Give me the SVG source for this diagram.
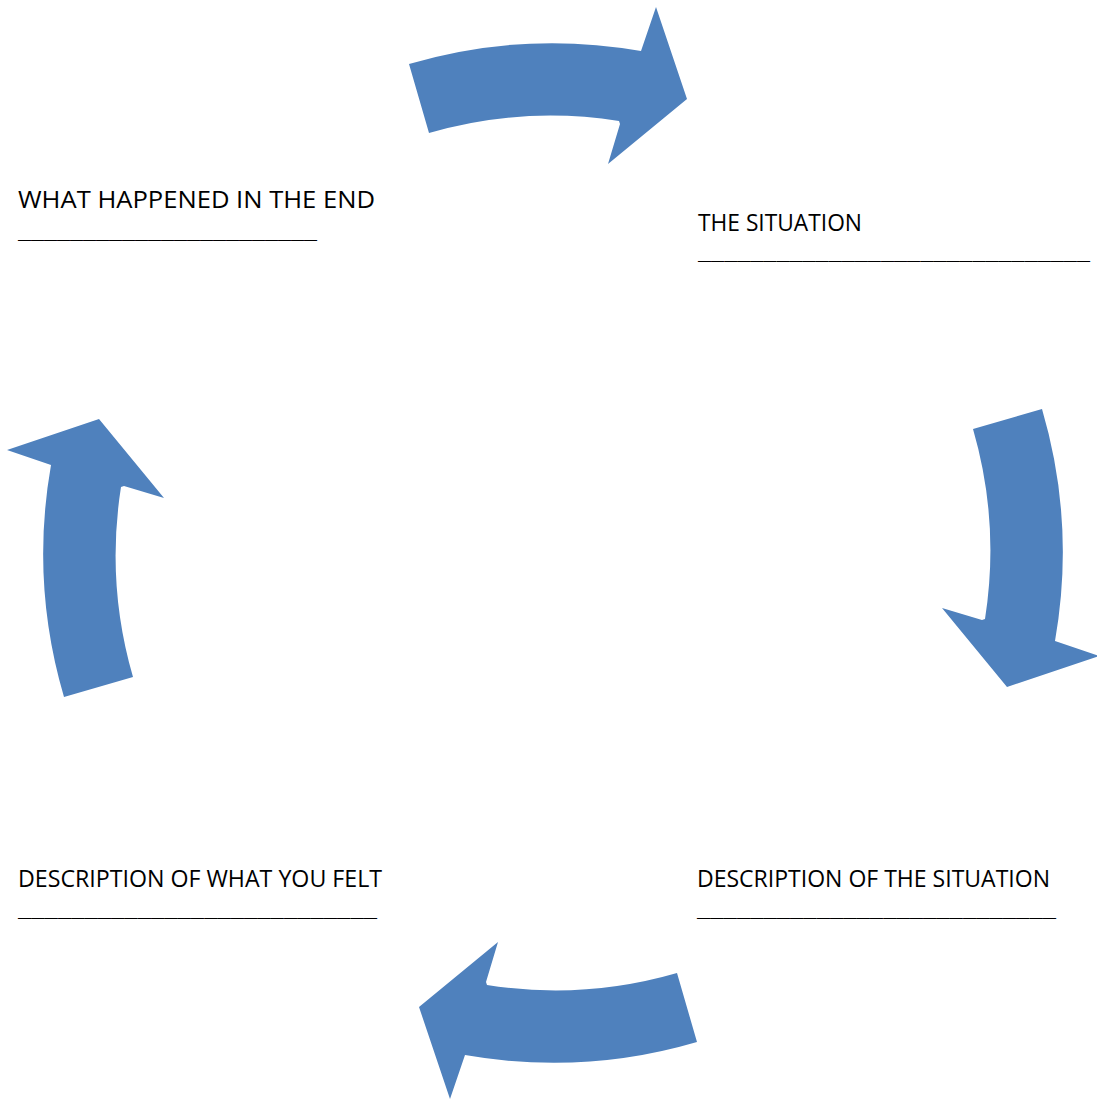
<svg xmlns="http://www.w3.org/2000/svg" width="1097" height="1102" viewBox="0 0 1097 1102">
  <style>
    .lbl { font-family: "Open Sans", "Liberation Sans", sans-serif; font-size: 24px; fill: #000000; }
    .line { font-family: "Open Sans", "Liberation Sans", sans-serif; font-size: 16px; fill: #000000; }
    .arrow { fill: #4F81BD; }
  </style>
  <defs>
    <path id="arc-arrow" class="arrow" d="M 409 64 A 510 510 0 0 1 641 51 L 656 7 L 687 99 L 608 164 L 620 124 L 619 121 A 438 438 0 0 0 429 133 Z"/>
  </defs>
  <rect width="1097" height="1102" fill="#ffffff"/>
  <g id="connectors">
    <use href="#arc-arrow"/>
    <use href="#arc-arrow" transform="rotate(90 553 553)"/>
    <use href="#arc-arrow" transform="rotate(180 553 553)"/>
    <use href="#arc-arrow" transform="rotate(270 553 553)"/>
  </g>
  <g id="node-end">
    <text class="lbl" x="18" y="208" textLength="357" lengthAdjust="spacingAndGlyphs">WHAT HAPPENED IN THE END</text>
    <text class="line" x="18" y="239" textLength="299" lengthAdjust="spacingAndGlyphs">_______________________</text>
  </g>
  <g id="node-situation">
    <text class="lbl" x="698" y="231" textLength="164" lengthAdjust="spacingAndGlyphs">THE SITUATION</text>
    <text class="line" x="698" y="260" textLength="392" lengthAdjust="spacingAndGlyphs">______________________________</text>
  </g>
  <g id="node-description">
    <text class="lbl" x="697" y="887" textLength="353" lengthAdjust="spacingAndGlyphs">DESCRIPTION OF THE SITUATION</text>
    <text class="line" x="697" y="917" textLength="359" lengthAdjust="spacingAndGlyphs">___________________________</text>
  </g>
  <g id="node-felt">
    <text class="lbl" x="18" y="887" textLength="364" lengthAdjust="spacingAndGlyphs">DESCRIPTION OF WHAT YOU FELT</text>
    <text class="line" x="18" y="917" textLength="359" lengthAdjust="spacingAndGlyphs">___________________________</text>
  </g>
</svg>
